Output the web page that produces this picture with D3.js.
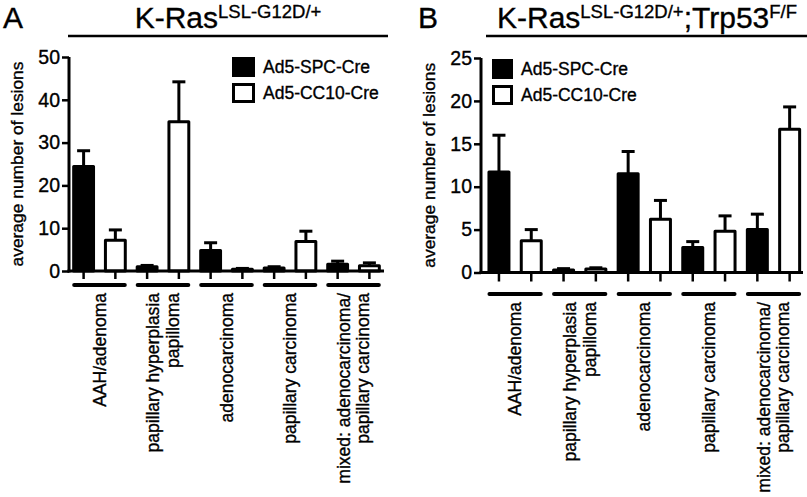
<!DOCTYPE html>
<html lang="en">
<head>
<meta charset="UTF-8">
<title>Lesions per lung</title>
<script src="https://cdn.jsdelivr.net/npm/d3@7"></script>
<style>
    body { margin: 0; background: #fff; }
    svg { display: block; font-family: "Liberation Sans", Arial, Helvetica, sans-serif; }
    svg text { stroke: #000; stroke-width: 0.35px; }
</style>
</head>
<body>
<div id="chart"></div>
<script>
// lesion categories (one label line per entry)
const categories = [
    ["AAH/adenoma"],
    ["papillary hyperplasia", "papilloma"],
    ["adenocarcinoma"],
    ["papillary carcinoma"],
    ["mixed: adenocarcinoma/", "papillary carcinoma"]
];
const seriesNames = ["Ad5-SPC-Cre", "Ad5-CC10-Cre"];

// panel A: K-Ras LSL-G12D/+
const spcA = [24.4, 1.0, 4.8, 0.7, 1.6];
const spcSemA = [3.7, 0.3, 1.8, 0.3, 0.7];
const cc10A = [7.2, 34.9, 0.4, 6.9, 1.2];
const cc10SemA = [2.4, 9.3, 0.2, 2.4, 0.7];
const yTicksA = [0, 10, 20, 30, 40, 50];

// panel B: K-Ras LSL-G12D/+ ; Trp53 F/F
const spcB = [11.7, 0.3, 11.5, 2.9, 5.0];
const spcSemB = [4.3, 0.15, 2.6, 0.7, 1.8];
const cc10B = [3.7, 0.4, 6.2, 4.8, 16.7];
const cc10SemB = [1.3, 0.15, 2.2, 1.8, 2.6];
const yTicksB = [0, 5, 10, 15, 20, 25];

const width = 807, height = 497;

const svg = d3.select("#chart").append("svg")
    .attr("width", width)
    .attr("height", height);

svg.append("rect").attr("width", width).attr("height", height).attr("fill", "#fff");

function drawPanel(p) {
    const g = svg.append("g");

    // panel letter
    g.append("text")
        .attr("x", p.letterX).attr("y", 28)
        .attr("font-size", 30)
        .text(p.letter);

    // title with superscripts
    const title = g.append("text")
        .attr("x", p.titleX).attr("y", 28)
        .attr("text-anchor", "middle")
        .attr("font-size", 30);
    p.title.forEach(part => {
        title.append("tspan")
            .attr("font-size", part.sup ? 18.5 : 30)
            .attr("dy", part.sup ? -10 : (part.after ? 10 : 0))
            .text(part.t);
    });

    g.append("line")
        .attr("x1", p.lineX[0]).attr("x2", p.lineX[1])
        .attr("y1", 36).attr("y2", 36)
        .attr("stroke", "#000").attr("stroke-width", 2.5);

    // bars, one band per bar
    const keys = [];
    categories.forEach((c, i) => { keys.push(i + "-0"); keys.push(i + "-1"); });

    const x = d3.scaleBand()
        .domain(keys)
        .range(p.xRange)
        .paddingInner(p.padIn)
        .paddingOuter(p.padOut);

    const y = d3.scaleLinear()
        .domain([0, p.yMax])
        .range([p.y0, p.yTop]);

    const bars = [];
    categories.forEach((c, i) => {
        bars.push({ key: i + "-0", s: 0, v: p.spc[i], e: p.spcSem[i] });
        bars.push({ key: i + "-1", s: 1, v: p.cc10[i], e: p.cc10Sem[i] });
    });

    const cap = 13;
    const bg = g.append("g");

    // error bars (upper only)
    bg.selectAll(".err")
        .data(bars)
        .join("g")
        .attr("class", "err")
        .each(function (d) {
            const cx = x(d.key) + x.bandwidth() / 2;
            const sel = d3.select(this);
            sel.append("line")
                .attr("x1", cx).attr("x2", cx)
                .attr("y1", y(d.v)).attr("y2", y(d.v + d.e))
                .attr("stroke", "#000").attr("stroke-width", 3);
            sel.append("line")
                .attr("x1", cx - cap / 2).attr("x2", cx + cap / 2)
                .attr("y1", y(d.v + d.e)).attr("y2", y(d.v + d.e))
                .attr("stroke", "#000").attr("stroke-width", 3);
        });

    bg.selectAll(".bar")
        .data(bars)
        .join("rect")
        .attr("class", "bar")
        .attr("x", d => x(d.key) + 1.5)
        .attr("width", x.bandwidth() - 3)
        .attr("y", d => y(d.v))
        .attr("height", d => y(0) - y(d.v))
        .attr("fill", d => d.s === 0 ? "#000" : "#fff")
        .attr("stroke", "#000")
        .attr("stroke-width", 3)
        .attr("stroke-linejoin", "round");

    // y axis
    const yAxis = g.append("g")
        .attr("transform", `translate(${p.xRange[0]},0)`)
        .call(d3.axisLeft(y).tickValues(p.yTicks).tickSize(7).tickSizeOuter(0).tickPadding(2));
    yAxis.select(".domain").remove();
    yAxis.selectAll(".tick line").attr("stroke-width", 2.5);
    yAxis.selectAll(".tick text")
        .attr("font-size", 19.5)
        .attr("font-family", "inherit")
        .attr("fill", "#000");

    g.append("line")
        .attr("x1", p.xRange[0]).attr("x2", p.xRange[0])
        .attr("y1", p.y0 + 1.5).attr("y2", p.yTop)
        .attr("stroke", "#000").attr("stroke-width", 3);

    // x axis
    const xAxis = g.append("g")
        .attr("transform", `translate(0,${p.y0})`)
        .call(d3.axisBottom(x).tickFormat("").tickSize(p.xTick).tickSizeOuter(0));
    xAxis.select(".domain").remove();
    xAxis.selectAll(".tick line").attr("stroke-width", 2.5);

    g.append("line")
        .attr("x1", p.xRange[0] - 1.5).attr("x2", p.xEnd)
        .attr("y1", p.y0).attr("y2", p.y0)
        .attr("stroke", "#000").attr("stroke-width", 3);

    // y label
    g.append("text")
        .attr("transform", `translate(${p.yLabelX},${(p.y0 + p.yTop) / 2}) rotate(-90)`)
        .attr("text-anchor", "middle")
        .attr("font-size", 17.4)
        .text("average number of lesions");

    // group underlines and labels
    const fs = 17.5, lh = 19.5;
    categories.forEach((lines, i) => {
        const x1 = x(i + "-0"), x2 = x(i + "-1") + x.bandwidth();
        g.append("line")
            .attr("x1", x1 + 2).attr("x2", x2 - 2)
            .attr("y1", p.groupY).attr("y2", p.groupY)
            .attr("stroke", "#000").attr("stroke-width", 4)
            .attr("stroke-linecap", "round");
        const cx = (x1 + x2) / 2;
        lines.forEach((t, j) => {
            const bx = cx + 0.35 * fs + (j - (lines.length - 1) / 2) * lh;
            g.append("text")
                .attr("transform", `translate(${bx},${p.groupY + 8}) rotate(-90)`)
                .attr("text-anchor", "end")
                .attr("font-size", fs)
                .text(t);
        });
    });

    // legend
    seriesNames.forEach((name, i) => {
        const ly = p.legendY + i * 26;
        g.append("rect")
            .attr("x", p.legendX + 1.5).attr("y", ly + 1.5)
            .attr("width", p.legendW - 3).attr("height", 17)
            .attr("fill", i === 0 ? "#000" : "#fff")
            .attr("stroke", "#000").attr("stroke-width", 3);
        g.append("text")
            .attr("x", p.legendX + p.legendW + 8).attr("y", ly + 16)
            .attr("font-size", 17.5)
            .text(name);
    });
}

drawPanel({
    letter: "A", letterX: 3, titleX: 228, lineX: [68, 388],
    title: [{ t: "K-Ras" }, { t: "LSL-G12D/+", sup: true }],
    spc: spcA, spcSem: spcSemA, cc10: cc10A, cc10Sem: cc10SemA,
    yMax: 50, yTicks: yTicksA, y0: 271, yTop: 57,
    xRange: [69, 384], xEnd: 384, padIn: 0.28, padOut: 0.1, xTick: 8,
    yLabelX: 22.5, groupY: 285,
    legendX: 232, legendY: 57, legendW: 23
});

drawPanel({
    letter: "B", letterX: 418, titleX: 647, lineX: [486, 807],
    title: [{ t: "K-Ras" }, { t: "LSL-G12D/+", sup: true }, { t: ";Trp53", after: true }, { t: "F/F", sup: true }],
    spc: spcB, spcSem: spcSemB, cc10: cc10B, cc10Sem: cc10SemB,
    yMax: 25, yTicks: yTicksB, y0: 272.5, yTop: 58,
    xRange: [481, 807.6], xEnd: 803, padIn: 0.288, padOut: 0.2, xTick: 9,
    yLabelX: 434.5, groupY: 294,
    legendX: 492, legendY: 59, legendW: 21
});
</script>
</body>
</html>
